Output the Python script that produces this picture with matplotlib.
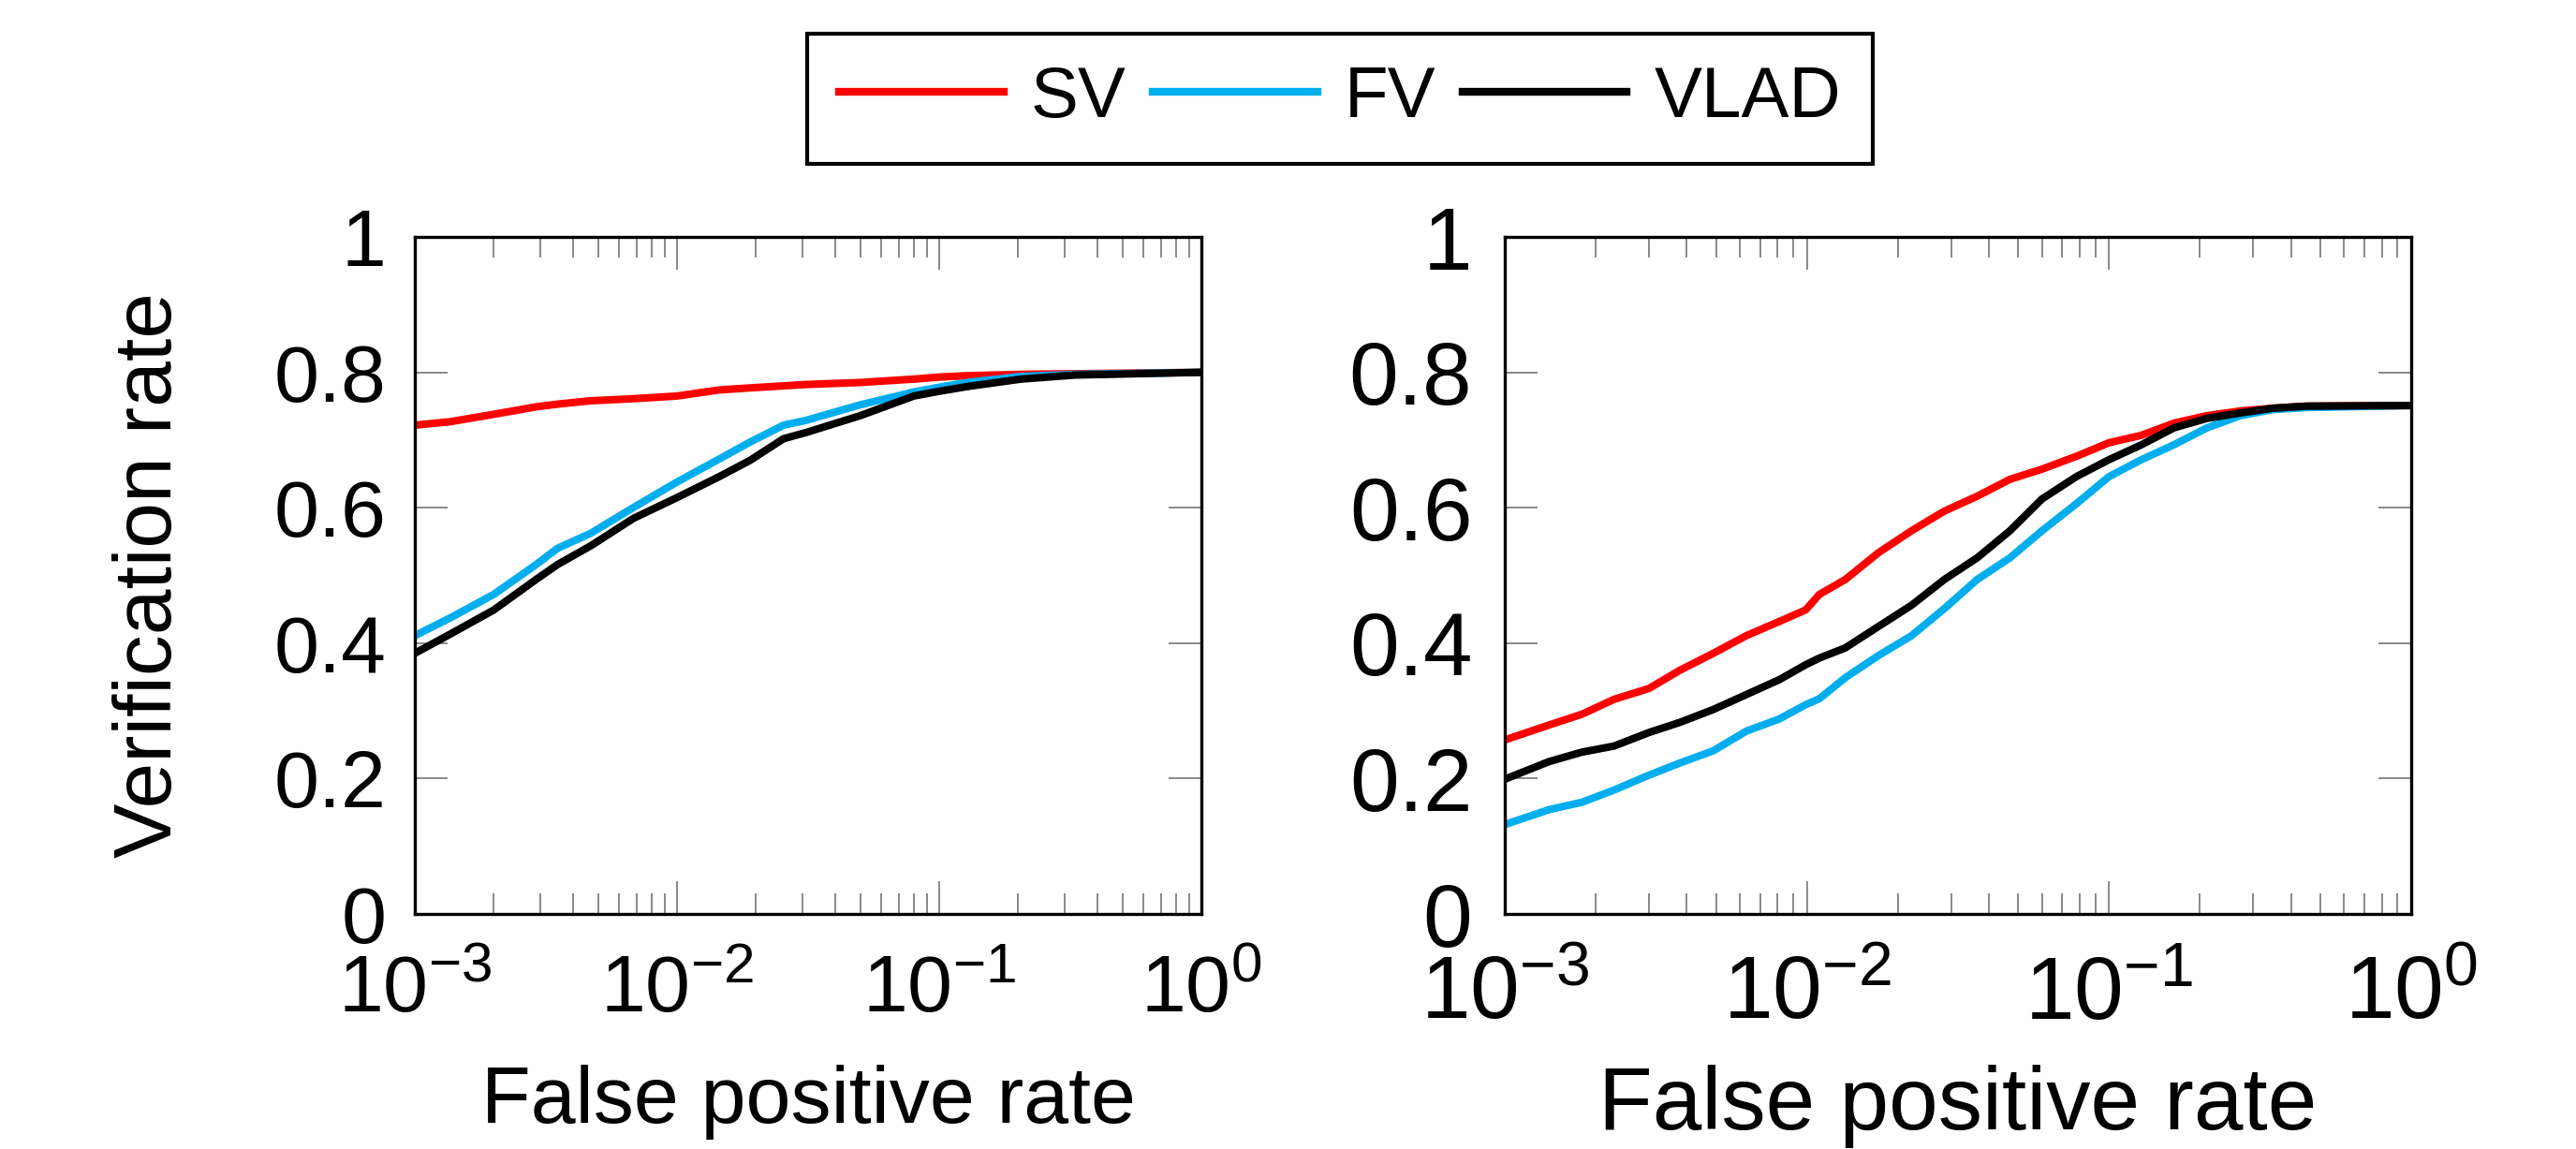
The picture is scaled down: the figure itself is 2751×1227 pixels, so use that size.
import numpy as np
import matplotlib
matplotlib.use('Agg')
import matplotlib.pyplot as plt

# reading values off the two ROC-style panels
series = ['SV', 'FV', 'VLAD']
colours = ['#FF0000', '#00AEEF', '#000000']

# left panel
fpr_a = [0.001, 0.00136, 0.002, 0.0029, 0.0035, 0.0047, 0.0068, 0.01, 0.0145, 0.019,
         0.0255, 0.031, 0.05, 0.08, 0.1, 0.128, 0.205, 0.33, 1.0]
sv_a = [0.722, 0.727, 0.738, 0.749, 0.753, 0.758, 0.761, 0.765, 0.774, 0.777,
        0.780, 0.782, 0.785, 0.790, 0.793, 0.795, 0.797, 0.798, 0.800]
fv_a = [0.411, 0.437, 0.472, 0.516, 0.540, 0.5625, 0.600, 0.638, 0.672, 0.697,
        0.722, 0.729, 0.752, 0.771, 0.778, 0.785, 0.794, 0.797, 0.800]
vlad_a = [0.385, 0.413, 0.449, 0.494, 0.516, 0.544, 0.584, 0.615, 0.646, 0.670,
          0.702, 0.711, 0.736, 0.765, 0.772, 0.779, 0.790, 0.796, 0.800]

# right panel
fpr_b = [0.001, 0.0014, 0.0018, 0.0023, 0.003, 0.0038, 0.0049, 0.0063, 0.0081, 0.0099,
         0.011, 0.0134, 0.0173, 0.0222, 0.0285, 0.0366, 0.047, 0.06, 0.078, 0.1,
         0.128, 0.164, 0.211, 0.272, 0.349, 0.449, 1.0]
sv_b = [0.257, 0.279, 0.295, 0.317, 0.333, 0.360, 0.385, 0.411, 0.432, 0.449,
        0.472, 0.494, 0.534, 0.566, 0.595, 0.617, 0.642, 0.657, 0.676, 0.696,
        0.707, 0.725, 0.736, 0.743, 0.747, 0.750, 0.751]
fv_b = [0.132, 0.154, 0.165, 0.183, 0.205, 0.223, 0.241, 0.270, 0.288, 0.309,
        0.318, 0.349, 0.382, 0.411, 0.451, 0.494, 0.526, 0.566, 0.606, 0.646,
        0.671, 0.693, 0.718, 0.736, 0.745, 0.748, 0.751]
vlad_b = [0.199, 0.225, 0.239, 0.248, 0.268, 0.283, 0.302, 0.324, 0.346, 0.368,
          0.378, 0.393, 0.425, 0.456, 0.494, 0.526, 0.566, 0.613, 0.646, 0.671,
          0.693, 0.718, 0.732, 0.740, 0.747, 0.750, 0.751]

yticks = [0, 0.2, 0.4, 0.6, 0.8, 1]
ytick_labels = ['0', '0.2', '0.4', '0.6', '0.8', '1']
xticks = [1e-3, 1e-2, 1e-1, 1e0]

# fonts
plt.rcParams['font.family'] = 'Liberation Sans'
plt.rcParams['mathtext.fontset'] = 'custom'
plt.rcParams['mathtext.rm'] = 'Liberation Sans'
plt.rcParams['mathtext.it'] = 'Liberation Sans:italic'
plt.rcParams['mathtext.bf'] = 'Liberation Sans:bold'

W, H = 2751, 1227
fig = plt.figure(figsize=(W / 100, H / 100), dpi=100)

top, bottom = 253, 976
ax1 = fig.add_axes([443 / W, 1 - bottom / H, (1283 - 443) / W, (bottom - top) / H])
ax2 = fig.add_axes([1607 / W, 1 - bottom / H, (2575 - 1607) / W, (bottom - top) / H])

# the right panel's text is drawn a little wider in the original
panels = [(ax1, fpr_a, [sv_a, fv_a, vlad_a], 62, 22),
          (ax2, fpr_b, [sv_b, fv_b, vlad_b], 68, 25)]

for ax, fpr, ys, fs, ypad in panels:
    for name, col, y in zip(series, colours, ys):
        ax.plot(fpr, y, color=col, lw=5.8, label=name, solid_joinstyle='round')
    ax.set_xscale('log')
    ax.set_xlim(1e-3, 1)
    ax.set_ylim(0, 1)
    ax.set_xticks(xticks)
    ax.set_yticks(yticks)
    ax.set_yticklabels(ytick_labels)
    ax.tick_params(which='both', direction='in', top=True, right=True,
                   color='#808080', width=1.3, labelsize=fs)
    ax.tick_params(which='major', length=25)
    ax.tick_params(which='minor', length=16)
    ax.tick_params(axis='x', which='major', pad=31)
    ax.tick_params(axis='y', which='major', pad=ypad)
    ax.tick_params(axis='y', which='minor', left=False, right=False)
    for s in ax.spines.values():
        s.set_linewidth(2.4)
    ax.set_xlabel('False positive rate', fontsize=fs)
    ax.xaxis.set_label_coords(0.5, -0.222)

ax1.set_ylabel('Verification rate', fontsize=63)
ax1.yaxis.set_label_coords(-0.288, 0.5)

handles, labels = ax1.get_legend_handles_labels()
leg = fig.legend(handles, labels, loc='center', bbox_to_anchor=(1431 / W, 1 - 105.5 / H),
                 ncol=3, fontsize=55, frameon=True, fancybox=False, edgecolor='black',
                 framealpha=1, handlelength=2.3, handletextpad=0.38, columnspacing=0.37,
                 borderpad=0.45)
leg.get_frame().set_linewidth(3)
for line in leg.get_lines():
    line.set_linewidth(6)

fig.savefig('out.png', dpi=100)
